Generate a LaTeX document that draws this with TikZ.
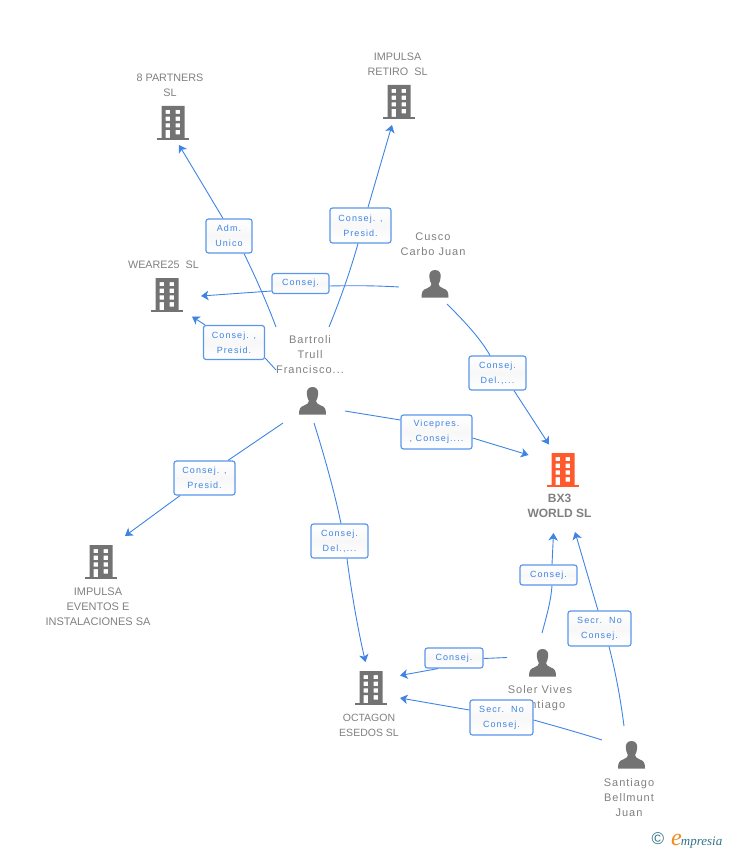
\documentclass[tikz,border=0pt]{standalone}
\usepackage{fontspec}
\setmainfont{Liberation Sans}
\newfontfamily\wordfont[LetterSpace=9]{Liberation Sans}
\newfontfamily\boxfont[LetterSpace=12]{Liberation Sans}
\newfontfamily\logofont{Liberation Serif}
\usetikzlibrary{arrows.meta}
\definecolor{iconGray}{HTML}{737373}
\definecolor{textGray}{HTML}{808080}
\definecolor{linkBlue}{HTML}{3F84E5}
\definecolor{boxEdge}{HTML}{5A96EA}
\definecolor{hotOrange}{HTML}{FF5A2E}
\definecolor{logoTeal}{HTML}{2F7488}
\definecolor{logoOrange}{HTML}{F28A1E}
\tikzset{
  x=1pt,y=-1pt,
  namelabel/.style={text=textGray,align=center,inner sep=0pt,font=\fontsize{10.8}{15}\selectfont},
  wordlabel/.style={text=textGray,align=center,inner sep=0pt,font=\fontsize{11}{15}\selectfont\wordfont},
  hotlabel/.style={text=textGray,align=center,inner sep=0pt,font=\fontsize{12}{15}\selectfont\bfseries},
  rolebox/.style={draw=boxEdge,line width=1.2pt,rounded corners=2.5pt,top color=white,bottom color=white,middle color=black!3!white,
    text=linkBlue,align=center,inner sep=0pt,font=\fontsize{9}{15}\selectfont\boxfont},
  link/.style={draw=linkBlue,line width=0.9pt},
  arrowlink/.style={link,-{Stealth[length=7.5pt,width=9.5pt,inset=2pt]}},
}
\newcommand{\tower}[4]{% name, centre x, top y, colour
  \coordinate (#1) at (#2,#3);
  \begin{scope}[shift={(#2,#3)}]
    \fill[#4,even odd rule] (-11.5,0) rectangle (11.5,32)
      (-7.5,4) rectangle (-2.8,8) (2.5,4) rectangle (7.2,8)
      (-7.5,10.7) rectangle (-2.8,15) (2.5,10.7) rectangle (7.2,15)
      (-7.5,17.3) rectangle (-2.8,21.5) (2.5,17.3) rectangle (7.2,21.5)
      (-7.5,24) rectangle (-2.8,32) (2.5,24) rectangle (7.2,28.5);
    \fill[#4] (-16,32) rectangle (16,34);
  \end{scope}}
\newcommand{\personicon}[3]{% name, centre x, top y
  \coordinate (#1) at (#2,#3);
  \begin{scope}[shift={(#2,#3)}]
    \fill[iconGray] (0,0) .. controls (-4.5,0) and (-6,3.5) .. (-5.7,7)
      .. controls (-5.5,10) and (-4.5,12.5) .. (-3.6,14)
      .. controls (-3.6,16) and (-5,17) .. (-8,18.3)
      .. controls (-12,19.8) and (-13.5,21) .. (-13.5,27.5)
      -- (13.5,27.5)
      .. controls (13.5,21) and (12,19.8) .. (8,18.3)
      .. controls (5,17) and (3.6,16) .. (3.6,14)
      .. controls (4.5,12.5) and (5.5,10) .. (5.7,7)
      .. controls (6,3.5) and (4.5,0) .. (0,0) -- cycle;
  \end{scope}}
\begin{document}
\begin{tikzpicture}
\useasboundingbox (0,0) rectangle (728,850);
% icons
\tower{partnersIcon}{173}{106}{iconGray}
\tower{retiroIcon}{399}{85}{iconGray}
\tower{weareIcon}{167}{278}{iconGray}
\tower{eventosIcon}{101}{545}{iconGray}
\tower{octagonIcon}{371}{671}{iconGray}
\tower{bxIcon}{563}{453}{hotOrange}
\personicon{bartroliIcon}{312.5}{387}
\personicon{cuscoIcon}{435}{270}
\personicon{solerIcon}{542.5}{649}
\personicon{santiagoIcon}{631.5}{741}
% labels
\node[namelabel] (partners) at (170,85) {8 PARTNERS\\SL};
\node[namelabel] (retiro) at (397.5,64) {IMPULSA\\RETIRO\ \ SL};
\node[namelabel] (weare) at (163.5,264.5) {WEARE25\ \ SL};
\node[namelabel,font=\fontsize{11}{15}\selectfont] (eventos) at (98,606.5) {IMPULSA\\EVENTOS E\\INSTALACIONES SA};
\node[namelabel,font=\fontsize{10.5}{15}\selectfont] (octagon) at (369,725) {OCTAGON\\ESEDOS SL};
\node[hotlabel] (bx) at (559.5,506) {BX3\\WORLD SL};
\node[wordlabel] (bartroli) at (310,354.5) {Bartroli\\Trull\\Francisco...};
\node[wordlabel] (cusco) at (433,244) {Cusco\\Carbo Juan};
\node[wordlabel] (soler) at (540,698) {Soler Vives\\Santiago};
\node[wordlabel] (santiago) at (629,797.5) {Santiago\\Bellmunt\\Juan};
% role boxes
\node[rolebox,minimum width=46pt,minimum height=34pt] (admBox) at (229,236) {Adm.\\Unico};
\node[rolebox,minimum width=61pt,minimum height=35pt] (retiroBox) at (360.5,225.5) {Consej. ,\\Presid.};
\node[rolebox,minimum width=57pt,minimum height=20pt] (weareBox) at (300.5,283.5) {Consej.};
\node[rolebox,minimum width=61pt,minimum height=34pt] (weareBoxB) at (234,342.5) {Consej. ,\\Presid.};
\node[rolebox,minimum width=57pt,minimum height=34pt] (cuscoBox) at (497.5,373) {Consej.\\Del.,...};
\node[rolebox,minimum width=71pt,minimum height=34pt] (viceBox) at (436.5,432) {Vicepres.\\, Consej....};
\node[rolebox,minimum width=61pt,minimum height=34pt] (eventosBox) at (204.5,478) {Consej. ,\\Presid.};
\node[rolebox,minimum width=57pt,minimum height=34pt] (octagonBox) at (339.5,541) {Consej.\\Del.,...};
\node[rolebox,minimum width=57pt,minimum height=20pt] (solerBox) at (548.5,575) {Consej.};
\node[rolebox,minimum width=63pt,minimum height=35pt] (secrBox) at (599.5,628.5) {Secr.\ \ No\\Consej.};
\node[rolebox,minimum width=58pt,minimum height=20pt] (solerBoxB) at (454,658) {Consej.};
\node[rolebox,minimum width=63pt,minimum height=35pt] (secrBoxB) at (501.5,717.5) {Secr.\ \ No\\Consej.};
% free ends
\coordinate (partnersTip) at (179,145);
\coordinate (retiroTip) at (392,125);
\coordinate (weareTip) at (201,296);
\coordinate (weareTipB) at (192,316.5);
\coordinate (bxTipA) at (549,444.5);
\coordinate (bxTipB) at (528.5,455);
\coordinate (bxTipC) at (553.5,533);
\coordinate (bxTipD) at (575,532);
\coordinate (eventosTip) at (125,536);
\coordinate (octagonTip) at (365.5,662);
\coordinate (octagonTipB) at (400,675.5);
\coordinate (octagonTipC) at (400,698);
\coordinate (bartA) at (276,327);
\coordinate (bartB) at (329,327);
\coordinate (bartC) at (276,370);
\coordinate (bartD) at (345,411);
\coordinate (bartE) at (283,423);
\coordinate (bartF) at (314,423);
\coordinate (cuscoA) at (399,287);
\coordinate (cuscoB) at (447,304);
\coordinate (solerA) at (542,633);
\coordinate (solerB) at (507,657.5);
\coordinate (santA) at (624,726);
\coordinate (santB) at (602,740);
% connectors
\draw[link] (bartA) .. controls (267,303) and (256,278) .. ([xshift=15pt]admBox.south);
\draw[arrowlink] ([xshift=-6pt]admBox.north) -- (partnersTip);
\draw[link] (bartB) .. controls (340,300) and (350,272) .. ([xshift=-2.5pt]retiroBox.south);
\draw[arrowlink] ([xshift=7.5pt]retiroBox.north) -- (retiroTip);
\draw[link] (cuscoA) .. controls (375,285.5) and (350,285.5) .. ([yshift=-2.5pt]weareBox.east);
\draw[arrowlink] ([yshift=-7.5pt]weareBox.west) -- (weareTip);
\draw[link] (bartC) -- ([yshift=-15.5pt]weareBoxB.east);
\draw[arrowlink] ([xshift=-29pt]weareBoxB.north) -- (weareTipB);
\draw[link] (cuscoB) .. controls (465,322) and (480,338) .. ([xshift=-7.5pt]cuscoBox.north);
\draw[arrowlink] ([xshift=16.5pt]cuscoBox.south) -- (bxTipA);
\draw[link] (bartD) -- ([yshift=12pt]viceBox.west);
\draw[arrowlink] ([yshift=-6pt]viceBox.east) -- (bxTipB);
\draw[link] (bartE) -- ([xshift=23.5pt]eventosBox.north);
\draw[arrowlink] ([xshift=-24.5pt]eventosBox.south) -- (eventosTip);
\draw[link] (bartF) .. controls (324,455) and (334,490) .. ([xshift=1.5pt]octagonBox.north);
\draw[arrowlink] ([xshift=7.5pt]octagonBox.south) .. controls (351,590) and (358,630) .. (octagonTip);
\draw[link] (solerA) .. controls (547,615) and (551,600) .. ([xshift=3.5pt]solerBox.south);
\draw[arrowlink] ([xshift=3.5pt]solerBox.north) -- (bxTipC);
\draw[link] (santA) .. controls (620,695) and (615,670) .. ([xshift=9.5pt]secrBox.south);
\draw[arrowlink] ([xshift=-1.5pt]secrBox.north) -- (bxTipD);
\draw[link] (solerB) -- ([yshift=-0.5pt]solerBoxB.east);
\draw[arrowlink] ([xshift=-16pt]solerBoxB.south) -- (octagonTipB);
\draw[link] (santB) .. controls (580,733) and (555,726) .. ([yshift=-2.5pt]secrBoxB.east);
\draw[arrowlink] ([yshift=7.5pt]secrBoxB.west) -- (octagonTipC);
% logo
\node[inner sep=0pt,text=logoTeal,font=\fontsize{17}{17}\selectfont] (copyMark) at (658,839) {©};
\node[inner sep=0pt,anchor=base west,text=logoTeal,font=\fontsize{13}{13}\selectfont\logofont\itshape] (logoWord) at (671,845)
  {{\color{logoOrange}\fontsize{24}{24}\selectfont e}\kern-1pt mpresia};
\end{tikzpicture}
\end{document}
